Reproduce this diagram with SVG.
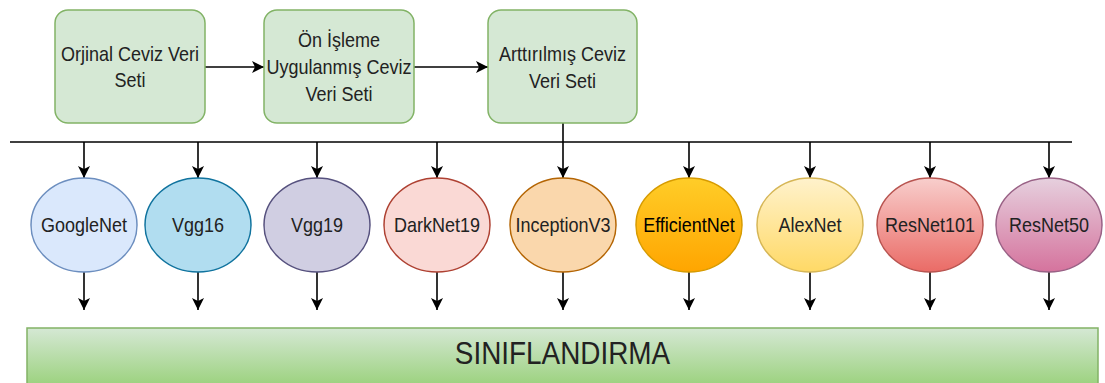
<svg xmlns="http://www.w3.org/2000/svg" width="1105" height="383" viewBox="0 0 1105 383">
<style>
.box{fill:#d5e8d4;stroke:#82b366;stroke-width:1.5}
.lbl{font-family:"Liberation Sans",Arial,sans-serif;font-size:20px;fill:#222;text-anchor:middle}
.big{font-family:"Liberation Sans",Arial,sans-serif;font-size:31px;fill:#222;text-anchor:middle}
.conn{stroke:#000;stroke-width:1.6;fill:none}
.arr{marker-end:url(#ah)}
.el{stroke-width:1.5}
</style>
<defs>
<marker id="ah" viewBox="0 0 12 12" refX="12" refY="6" markerWidth="12" markerHeight="12" markerUnits="userSpaceOnUse" orient="auto">
<path d="M0,0 L12,6 L0,12 L3,6 z" fill="#000"/>
</marker>
<linearGradient id="gBar" x1="0" y1="0" x2="0" y2="1"><stop offset="0" stop-color="#d5e8d4"/><stop offset="1" stop-color="#97d077"/></linearGradient>
<linearGradient id="gEff" x1="0" y1="0" x2="0" y2="1"><stop offset="0" stop-color="#ffcd28"/><stop offset="1" stop-color="#ffa500"/></linearGradient>
<linearGradient id="gAlex" x1="0" y1="0" x2="0" y2="1"><stop offset="0" stop-color="#fff2cc"/><stop offset="1" stop-color="#ffd966"/></linearGradient>
<linearGradient id="gR101" x1="0" y1="0" x2="0" y2="1"><stop offset="0" stop-color="#f8cecc"/><stop offset="1" stop-color="#ea6b66"/></linearGradient>
<linearGradient id="gR50" x1="0" y1="0" x2="0" y2="1"><stop offset="0" stop-color="#e6d0de"/><stop offset="1" stop-color="#d5739d"/></linearGradient>
</defs>

<g id="connectors">
<path class="conn arr" d="M205,67 H264"/>
<path class="conn arr" d="M414,67 H488"/>
<path class="conn" d="M10,142 H1072"/>
<path class="conn arr" d="M84,142 V178"/>
<path class="conn arr" d="M198,142 V178"/>
<path class="conn arr" d="M317,142 V178"/>
<path class="conn arr" d="M437,142 V178"/>
<path class="conn arr" d="M563,123 V178"/>
<path class="conn arr" d="M689,142 V178"/>
<path class="conn arr" d="M810,142 V178"/>
<path class="conn arr" d="M930,142 V178"/>
<path class="conn arr" d="M1049,142 V178"/>
<path class="conn arr" d="M84,272 V310"/>
<path class="conn arr" d="M198,272 V310"/>
<path class="conn arr" d="M317,272 V310"/>
<path class="conn arr" d="M437,272 V310"/>
<path class="conn arr" d="M563,272 V310"/>
<path class="conn arr" d="M689,272 V310"/>
<path class="conn arr" d="M810,272 V310"/>
<path class="conn arr" d="M930,272 V310"/>
<path class="conn arr" d="M1049,272 V310"/>
</g>

<g id="orjinal">
<rect class="box" x="55" y="10" width="150" height="113" rx="13"/>
<text class="lbl" transform="translate(130,61) scale(0.9,1)">Orjinal Ceviz Veri</text>
<text class="lbl" transform="translate(130,87) scale(0.9,1)">Seti</text>
</g>
<g id="onisleme">
<rect class="box" x="264" y="10" width="150" height="113" rx="13"/>
<text class="lbl" transform="translate(339,47) scale(0.9,1)">Ön İşleme</text>
<text class="lbl" transform="translate(339,74) scale(0.9,1)">Uygulanmış Ceviz</text>
<text class="lbl" transform="translate(339,101) scale(0.9,1)">Veri Seti</text>
</g>
<g id="arttirilmis">
<rect class="box" x="488" y="10" width="149" height="113" rx="13"/>
<text class="lbl" transform="translate(562.5,61) scale(0.9,1)">Arttırılmış Ceviz</text>
<text class="lbl" transform="translate(562.5,88) scale(0.9,1)">Veri Seti</text>
</g>

<g id="googlenet">
<ellipse class="el" cx="84" cy="225" rx="53" ry="47" fill="#dae8fc" stroke="#6c8ebf"/>
<text class="lbl" transform="translate(84,232) scale(0.9,1)">GoogleNet</text>
</g>
<g id="vgg16">
<ellipse class="el" cx="198" cy="225" rx="53" ry="47" fill="#b1ddf0" stroke="#10739e"/>
<text class="lbl" transform="translate(198,232) scale(0.9,1)">Vgg16</text>
</g>
<g id="vgg19">
<ellipse class="el" cx="317" cy="225" rx="53" ry="47" fill="#d0cee2" stroke="#56517e"/>
<text class="lbl" transform="translate(317,232) scale(0.9,1)">Vgg19</text>
</g>
<g id="darknet19">
<ellipse class="el" cx="437" cy="225" rx="53" ry="47" fill="#fad9d5" stroke="#ae4132"/>
<text class="lbl" transform="translate(437,232) scale(0.9,1)">DarkNet19</text>
</g>
<g id="inceptionv3">
<ellipse class="el" cx="563" cy="225" rx="53" ry="47" fill="#fad7ac" stroke="#b46504"/>
<text class="lbl" transform="translate(563,232) scale(0.9,1)">InceptionV3</text>
</g>
<g id="efficientnet">
<ellipse class="el" cx="689" cy="225" rx="53" ry="47" fill="url(#gEff)" stroke="#d79b00"/>
<text class="lbl" transform="translate(689,232) scale(0.9,1)" style="fill:#000">EfficientNet</text>
</g>
<g id="alexnet">
<ellipse class="el" cx="810" cy="225" rx="53" ry="47" fill="url(#gAlex)" stroke="#d6b656"/>
<text class="lbl" transform="translate(810,232) scale(0.9,1)">AlexNet</text>
</g>
<g id="resnet101">
<ellipse class="el" cx="930" cy="225" rx="53" ry="47" fill="url(#gR101)" stroke="#b85450"/>
<text class="lbl" transform="translate(930,232) scale(0.9,1)">ResNet101</text>
</g>
<g id="resnet50">
<ellipse class="el" cx="1049" cy="225" rx="53" ry="47" fill="url(#gR50)" stroke="#996185"/>
<text class="lbl" transform="translate(1049,232) scale(0.9,1)">ResNet50</text>
</g>

<g id="siniflandirma">
<rect x="27" y="328" width="1071" height="62" fill="url(#gBar)" stroke="#82b366" stroke-width="1.5"/>
<text class="big" transform="translate(562.5,364) scale(0.9,1)">SINIFLANDIRMA</text>
</g>
</svg>
